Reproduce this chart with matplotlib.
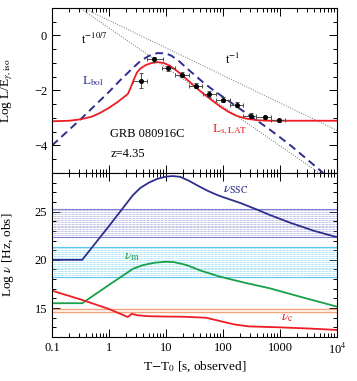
import matplotlib
matplotlib.use("Agg")
import matplotlib.pyplot as plt
import numpy as np
from matplotlib.ticker import MultipleLocator, LogLocator, FixedFormatter, FixedLocator, NullFormatter

plt.rcParams["font.family"] = "serif"
plt.rcParams["font.serif"] = ["Liberation Serif", "DejaVu Serif"]
plt.rcParams["mathtext.fontset"] = "stix"
plt.rcParams["font.size"] = 9

# ---- top panel: light curves (log10 t, log L/E) ----
lbol_logt = [-1.0, -0.5, 0.0, 0.2, 0.4, 0.55, 0.7, 0.85, 1.0, 1.1, 1.25, 1.37, 1.5,
             1.65, 1.8, 1.95, 2.1, 2.25, 2.5, 2.82, 3.0, 3.2, 3.4, 3.6, 3.76]
lbol_y = [-4.0, -3.05, -2.05, -1.62, -1.22, -0.93, -0.74, -0.64, -0.65, -0.74, -0.97,
          -1.2, -1.43, -1.7, -1.94, -2.16, -2.38, -2.6, -2.95, -3.42, -3.7, -4.02,
          -4.37, -4.72, -5.0]

llat_logt = [-1.0, -0.7, -0.5, -0.3, -0.16, 0.0, 0.15, 0.33, 0.38, 0.44, 0.49, 0.55,
             0.65, 0.75, 0.86, 0.96, 1.07, 1.2, 1.3, 1.45, 1.6, 1.77, 1.95, 2.1, 2.25,
             2.4, 2.6, 2.8, 4.0]
llat_y = [-3.12, -3.1, -3.05, -2.95, -2.82, -2.63, -2.42, -2.13, -1.9, -1.58, -1.35,
          -1.2, -1.07, -1.0, -0.97, -1.0, -1.1, -1.3, -1.48, -1.75, -2.02, -2.3, -2.58,
          -2.78, -2.93, -3.02, -3.08, -3.1, -3.1]

# power-law guides: log y at t = 0.1 s and at t = 1e4 s
pl107_ends = [1.70, -5.44]   # t^-10/7
pl1_ends = [1.55, -3.45]     # t^-1

# LAT data (t in s)
lat_t = [3.6, 6.2, 11.0, 19.0, 34.0, 56.0, 100.0, 178.0, 309.0, 550.0, 955.0]
lat_tlo = [2.6, 4.7, 8.5, 14.5, 25.0, 45.0, 76.0, 132.0, 224.0, 380.0, 692.0]
lat_thi = [4.7, 8.9, 14.5, 25.0, 43.0, 76.0, 132.0, 224.0, 380.0, 692.0, 1230.0]
lat_y = [-1.64, -0.87, -1.2, -1.42, -1.82, -2.12, -2.33, -2.51, -2.91, -2.98, -3.09]
lat_yerr = [0.27, 0.08, 0.08, 0.1, 0.1, 0.1, 0.08, 0.08, 0.08, 0.06, 0.06]

# ---- bottom panel: characteristic frequencies (log10 t, log nu) ----
nussc_logt = [-1.0, -0.47, 0.0, 0.19, 0.42, 0.55, 0.7, 0.85, 1.0, 1.12, 1.25, 1.4,
              1.6, 1.75, 1.9, 2.0, 2.3, 2.6, 2.82, 3.2, 3.6, 4.0]
nussc_y = [20.0, 20.0, 23.5, 24.95, 26.7, 27.45, 28.0, 28.4, 28.62, 28.68, 28.6, 28.2,
           27.55, 27.1, 26.72, 26.5, 25.9, 25.2, 24.65, 23.8, 23.0, 22.35]

num_logt = [-1.0, -0.47, 0.0, 0.43, 0.6, 0.8, 1.0, 1.15, 1.36, 1.6, 1.95, 2.4, 2.82,
            3.4, 4.0]
num_y = [15.5, 15.5, 17.4, 19.1, 19.45, 19.7, 19.8, 19.75, 19.46, 18.9, 18.25, 17.6,
         17.05, 16.1, 15.15]

nuc_logt = [-1.0, -0.47, 0.0, 0.33, 0.4, 0.5, 0.7, 1.0, 1.3, 1.7, 1.95, 2.2, 2.45,
            3.0, 3.5, 4.0]
nuc_y = [16.8, 15.84, 14.9, 14.07, 14.4, 14.25, 14.15, 14.12, 14.1, 14.0, 13.65,
         13.3, 13.1, 13.0, 12.88, 12.73]

lat_band = [22.35, 25.3]
gbm_band = [18.2, 21.3]
opt_band = [14.55, 14.95]

xticks = [0.1, 1, 10, 100, 1000, 1e4]
xticklabels = ["0.1", "1", "10", "100", "1000", r"10$^4$"]

NAVY = "#2e2e8f"
RED = "#ee1c24"
GREEN = "#18a048"
CYAN = "#5cc8f0"
LAV = "#8080cc"
ORANGE = "#f5a47a"

fig = plt.figure(figsize=(3.57, 3.81), dpi=100)
ax1 = fig.add_axes([0.1457, 0.546, 0.798, 0.433])
ax2 = fig.add_axes([0.1457, 0.1155, 0.798, 0.4305])

for ax in (ax1, ax2):
    ax.set_xscale("log")
    ax.set_xlim(0.1, 1e4)
    ax.xaxis.set_major_locator(FixedLocator(xticks))
    ax.xaxis.set_minor_locator(LogLocator(base=10, subs=np.arange(2, 10)))
    ax.xaxis.set_minor_formatter(NullFormatter())
    ax.tick_params(which="both", direction="in", top=True, right=True, width=0.7)
    ax.tick_params(which="major", length=5.5)
    ax.tick_params(which="minor", length=3)
    for s in ax.spines.values():
        s.set_linewidth(0.8)

# top panel
ax1.set_ylim(-5, 1)
ax1.yaxis.set_major_locator(MultipleLocator(2))
ax1.yaxis.set_minor_locator(MultipleLocator(0.5))
ax1.tick_params(labelbottom=False)

tt = np.array([0.1, 1e4])
ax1.plot(tt, pl107_ends, ls=(0, (1, 1.5)), color="0.45", lw=0.7)
ax1.plot(tt, pl1_ends, ls=(0, (1, 1.5)), color="0.45", lw=0.7)
ax1.plot(10 ** np.array(lbol_logt), lbol_y, ls=(0, (4, 2.5)), color=NAVY, lw=1.4)
ax1.plot(10 ** np.array(llat_logt), llat_y, color=RED, lw=1.3)

t = np.array(lat_t)
xerr = [t - np.array(lat_tlo), np.array(lat_thi) - t]
ax1.errorbar(t, lat_y, xerr=xerr, yerr=lat_yerr, fmt="o", ms=2.6, color="k",
             ecolor="0.3", elinewidth=0.7, capsize=1.5, capthick=0.7)

ax1.text(0.32, -0.15, r"t$^{-10/7}$", fontsize=9, va="center")
ax1.text(110, -0.87, r"t$^{-1}$", fontsize=9, va="center")
ax1.text(0.33, -1.67, r"L$_{\rm bol}$", fontsize=9.5, color=NAVY, va="center")
ax1.text(63, -3.42, r"L$_{\rm s,LAT}$", fontsize=9.5, color=RED, va="center")
ax1.text(1.05, -3.6, "GRB 080916C", fontsize=9, va="center")
ax1.text(1.05, -4.3, "z=4.35", fontsize=9, va="center")

ax1.set_ylabel(r"Log L/E$_{\gamma,\rm iso}$", fontsize=9.5)
ax1.yaxis.set_label_coords(-0.13, 0.5)

# bottom panel
ax2.set_ylim(12, 29)
ax2.yaxis.set_major_locator(MultipleLocator(5))
ax2.yaxis.set_minor_locator(MultipleLocator(1))

for band, c in ((lat_band, LAV), (gbm_band, CYAN)):
    for yy in np.arange(band[0] + 0.2, band[1], 0.2):
        ax2.axhline(yy, ls=(0, (1, 1)), color=c, lw=0.5)
    ax2.axhline(band[0], color=c, lw=0.8)
    ax2.axhline(band[1], color=c, lw=0.8)
for yy in opt_band:
    ax2.axhline(yy, color=ORANGE, lw=1.0)

ax2.plot(10 ** np.array(nussc_logt), nussc_y, color=NAVY, lw=1.3)
ax2.plot(10 ** np.array(num_logt), num_y, color=GREEN, lw=1.3)
ax2.plot(10 ** np.array(nuc_logt), nuc_y, color=RED, lw=1.3)

ax2.text(100, 27.3, r"$\nu_{\rm SSC}$", fontsize=10, color=NAVY, va="center")
ax2.text(1.8, 20.3, r"$\nu_{\rm m}$", fontsize=10, color=GREEN, va="center")
ax2.text(1050, 14.0, r"$\nu_{\rm c}$", fontsize=10, color=RED, va="center")

ax2.xaxis.set_major_formatter(FixedFormatter(xticklabels))
ax2.set_xlabel(r"T$-$T$_0$ [s, observed]", fontsize=9.5)
ax2.xaxis.set_label_coords(0.5, -0.14)
ax2.set_ylabel(r"Log $\nu$ [Hz, obs]", fontsize=9.5)
ax2.yaxis.set_label_coords(-0.125, 0.5)

fig.savefig("out.png", dpi=100)
